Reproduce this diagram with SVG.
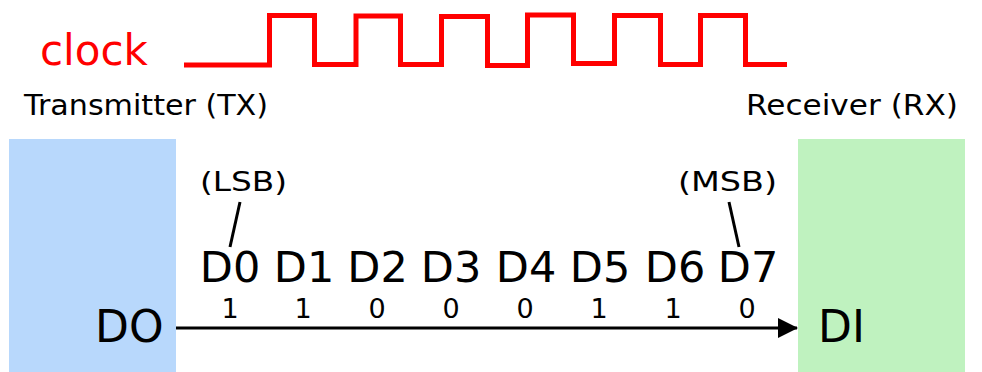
<svg xmlns="http://www.w3.org/2000/svg" width="982" height="372" viewBox="0 0 982 372">
<defs>
<style>
text{font-family:"DejaVu Sans","Liberation Sans",sans-serif;fill:#000}
.big{font-size:43px;text-anchor:middle}
.bit{font-size:27px;text-anchor:middle}
.note{font-size:27px}
.lbl{font-size:28px}
.lead{stroke:#000;stroke-width:3;fill:none}
</style>
<marker id="ah" markerWidth="20" markerHeight="20" refX="19" refY="10" orient="auto" markerUnits="userSpaceOnUse">
<path d="M0,0 L20,10 L0,20 Z" fill="#000"/>
</marker>
</defs>
<rect width="982" height="372" fill="#fff"/>
<g id="clock">
<text x="40" y="65" style="font-size:42px;fill:#ff0000">clock</text>
<polyline fill="none" stroke="#ff0000" stroke-width="5" points="184,65 269.5,65 269.5,15.5 314.5,15.5 314.5,64.5 356,64.5 356,16 400.5,16 400.5,64.5 441.5,64.5 441.5,16.5 487.5,16.5 487.5,65.5 527.5,65.5 527.5,15 573.5,15 573.5,63.5 614.5,63.5 614.5,15.5 660.5,15.5 660.5,64.5 700.5,64.5 700.5,15.5 745.5,15.5 745.5,64.5 787,64.5"/>
</g>
<g id="transmitter">
<rect x="9" y="139" width="167" height="233" fill="#b8d8fc"/>
<text class="lbl" x="24" y="115" textLength="244" lengthAdjust="spacingAndGlyphs">Transmitter (TX)</text>
<text x="95" y="342" style="font-size:44px">DO</text>
</g>
<g id="receiver">
<rect x="798" y="139" width="167" height="233" fill="#bff2bf"/>
<text class="lbl" x="746" y="115" textLength="212" lengthAdjust="spacingAndGlyphs">Receiver (RX)</text>
<text x="818" y="342" style="font-size:44px">DI</text>
</g>
<g id="bits">
<text class="note" x="200" y="191" textLength="87" lengthAdjust="spacingAndGlyphs">(LSB)</text>
<text class="note" x="678" y="191" textLength="99" lengthAdjust="spacingAndGlyphs">(MSB)</text>
<text class="big" x="230" y="282">D0</text>
<text class="big" x="304" y="282">D1</text>
<text class="big" x="377.5" y="282">D2</text>
<text class="big" x="451" y="282">D3</text>
<text class="big" x="526" y="282">D4</text>
<text class="big" x="600" y="282">D5</text>
<text class="big" x="675" y="282">D6</text>
<text class="big" x="748" y="282">D7</text>
<text class="bit" x="230" y="318">1</text>
<text class="bit" x="303" y="318">1</text>
<text class="bit" x="377" y="318">0</text>
<text class="bit" x="451" y="318">0</text>
<text class="bit" x="525" y="318">0</text>
<text class="bit" x="599" y="318">1</text>
<text class="bit" x="673" y="318">1</text>
<text class="bit" x="747" y="318">0</text>
</g>
<g id="connectors">
<line class="lead" x1="240" y1="202" x2="230" y2="247"/>
<line class="lead" x1="729" y1="202" x2="739" y2="247"/>
<line x1="176" y1="328" x2="797" y2="328" stroke="#000" stroke-width="3" marker-end="url(#ah)"/>
</g>
</svg>
